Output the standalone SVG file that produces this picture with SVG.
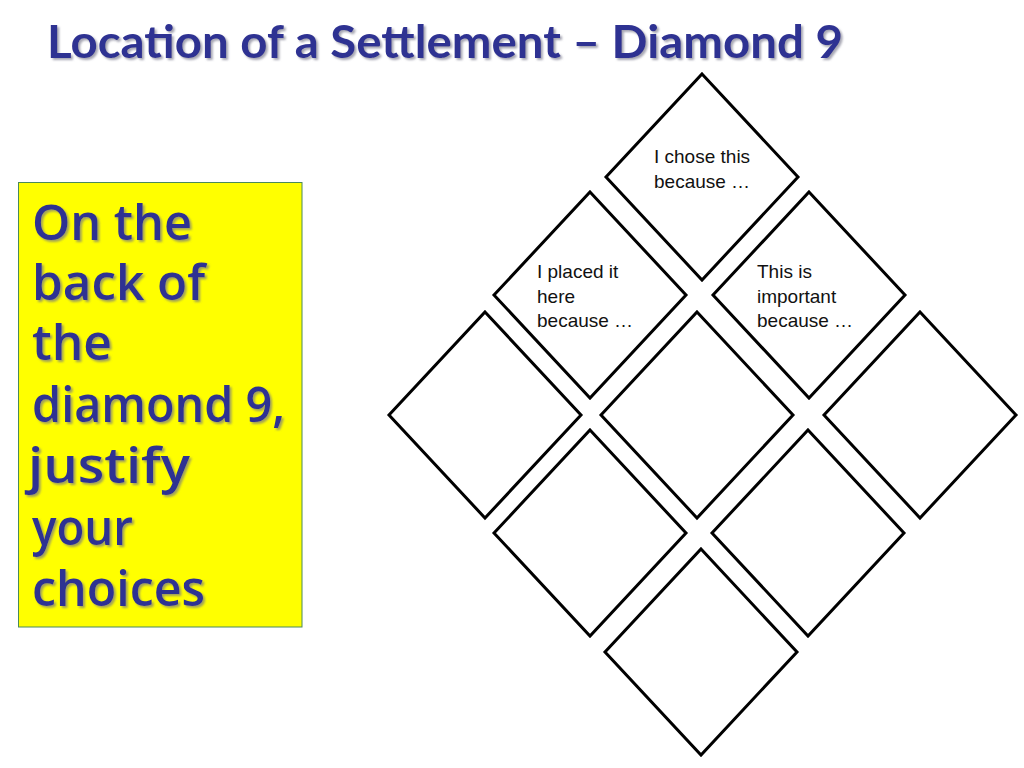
<svg xmlns="http://www.w3.org/2000/svg" width="1024" height="768" viewBox="0 0 1024 768">
<style>
.title{font-family:Lato,"Open Sans","Liberation Sans",sans-serif;font-weight:bold;font-size:46px;fill:#2E3192}
.big{font-family:"Open Sans","Liberation Sans",sans-serif;font-size:48px;font-weight:600;fill:#2E3192}
.dia{fill:#FFFFFF;stroke:#000000;stroke-width:3;stroke-linejoin:miter}
.lbl{font-family:"Liberation Sans",Arial,sans-serif;font-size:19px;fill:#111111}
</style>
<defs>
<polygon id="dshape" points="0,-103 96,0 0,103 -96,0"/>
<filter id="shadowT" x="-5%" y="-20%" width="110%" height="140%">
<feDropShadow dx="2" dy="2" stdDeviation="0.8" flood-color="#9090A0" flood-opacity="0.8"/>
</filter>
<filter id="shadowY" x="-5%" y="-5%" width="110%" height="110%">
<feDropShadow dx="2" dy="2" stdDeviation="0.8" flood-color="#8A8A70" flood-opacity="0.8"/>
</filter>
</defs>
<rect x="0" y="0" width="1024" height="768" fill="#FFFFFF"/>
<g id="title" filter="url(#shadowT)">
<text class="title" x="47" y="58" textLength="796" lengthAdjust="spacingAndGlyphs">Location of a Settlement – Diamond 9</text>
</g>
<g id="instruction">
<rect x="18.5" y="182.5" width="283.5" height="444.5" fill="#FFFF00" stroke="#4A8A5A" stroke-width="1"/>
<g class="big" filter="url(#shadowY)">
<text x="32" y="240" textLength="160" lengthAdjust="spacingAndGlyphs">On the</text>
<text x="32" y="300" textLength="173" lengthAdjust="spacingAndGlyphs">back of</text>
<text x="32" y="360" textLength="80" lengthAdjust="spacingAndGlyphs">the</text>
<text x="32" y="422" textLength="253" lengthAdjust="spacingAndGlyphs">diamond 9,</text>
<text x="28" y="483" textLength="162" lengthAdjust="spacingAndGlyphs">justify</text>
<text x="32" y="545" textLength="101" lengthAdjust="spacingAndGlyphs">your</text>
<text x="32" y="606" textLength="173" lengthAdjust="spacingAndGlyphs">choices</text>
</g>
</g>
<g id="d1"><use href="#dshape" class="dia" x="702" y="177"/>
<text class="lbl" x="654" y="163">I chose this</text>
<text class="lbl" x="654" y="188">because …</text></g>
<g id="d2"><use href="#dshape" class="dia" x="590" y="295"/>
<text class="lbl" x="537" y="278">I placed it</text>
<text class="lbl" x="537" y="303">here</text>
<text class="lbl" x="537" y="327">because …</text></g>
<g id="d3"><use href="#dshape" class="dia" x="809" y="295"/>
<text class="lbl" x="757" y="278">This is</text>
<text class="lbl" x="757" y="303">important</text>
<text class="lbl" x="757" y="327">because …</text></g>
<g id="d4"><use href="#dshape" class="dia" x="485" y="415"/></g>
<g id="d5"><use href="#dshape" class="dia" x="697" y="415"/></g>
<g id="d6"><use href="#dshape" class="dia" x="920" y="415"/></g>
<g id="d7"><use href="#dshape" class="dia" x="590" y="533"/></g>
<g id="d8"><use href="#dshape" class="dia" x="808" y="533"/></g>
<g id="d9"><use href="#dshape" class="dia" x="701" y="652"/></g>
<g id="connectors"></g>
</svg>
